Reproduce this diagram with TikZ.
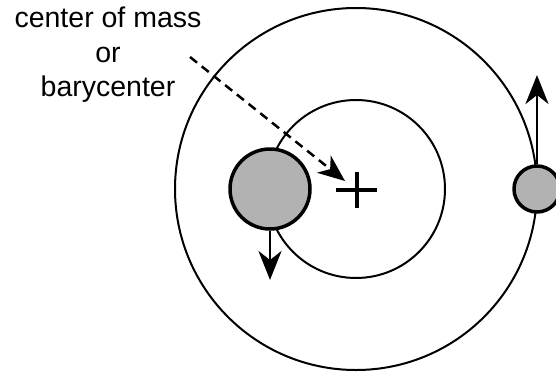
\documentclass[tikz,border=0pt]{standalone}
\usepackage{fontspec}
\setmainfont{Liberation Sans}
\usetikzlibrary{arrows.meta}
\tikzset{
  orbit/.style={draw, line width=2pt},
  body/.style={circle, draw, line width=3.5pt, fill=black!30, inner sep=0pt},
  vel/.style={line width=2.8pt, -{Stealth[length=29pt,width=23pt,inset=9pt]}},
  ptr/.style={line width=2.5pt, dash pattern=on 9pt off 6pt, -{Stealth[length=27pt,width=22pt,inset=8pt]}},
  lbl/.style={align=center, font=\fontsize{28.5}{34.5}\selectfont, inner sep=0pt}
}
\begin{document}
\begin{tikzpicture}[x=1pt,y=-1pt]
\useasboundingbox (0,0) rectangle (556,372);
\clip (0,0) rectangle (556,372);
\coordinate (cm) at (356,189);
\draw[orbit] (cm) circle[radius=181];
\draw[orbit] (cm) circle[radius=89];
\node[body, minimum size=80pt] (big) at (270,189) {};
\node[body, minimum size=46pt] (small) at (537,189) {};
\node[inner sep=0pt, minimum size=40pt] (cross) at (356.5,190) {};
\draw[line width=4pt] (cross.west) -- (cross.east);
\draw[line width=4pt] ([yshift=-2pt]cross.north) -- ([yshift=2pt]cross.south);
\coordinate (bigv) at (270,280);
\coordinate (smallv) at (537,75);
\draw[vel] (big.south) -- (bigv);
\draw[vel] (small.north) -- (smallv);
\node[lbl, anchor=north] (label) at (108,7) {center of mass\\or\\barycenter};
\coordinate (ptrstart) at (190,57);
\coordinate (ptrend) at (345,181);
\draw[ptr] (ptrstart) -- (ptrend);
\end{tikzpicture}
\end{document}
